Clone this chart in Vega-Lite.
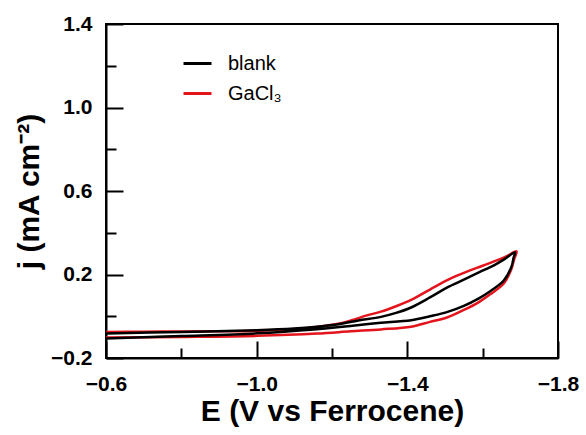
{
  "$schema": "https://vega.github.io/schema/vega-lite/v6.json",
  "width": 452,
  "height": 334,
  "autosize": {"type": "none"},
  "padding": {"left": 106, "top": 24, "right": 28, "bottom": 77},
  "background": "white",
  "config": {
    "view": {"stroke": "black", "strokeWidth": 2},
    "font": "Liberation Sans"
  },
  "data": {
    "values": [
      {"s": "GaCl₃", "i": 0, "E": -0.60, "j": -0.075},
      {"s": "GaCl₃", "i": 1, "E": -0.70, "j": -0.074},
      {"s": "GaCl₃", "i": 2, "E": -0.80, "j": -0.073},
      {"s": "GaCl₃", "i": 3, "E": -0.90, "j": -0.072},
      {"s": "GaCl₃", "i": 4, "E": -1.00, "j": -0.070},
      {"s": "GaCl₃", "i": 5, "E": -1.08, "j": -0.064},
      {"s": "GaCl₃", "i": 6, "E": -1.16, "j": -0.051},
      {"s": "GaCl₃", "i": 7, "E": -1.22, "j": -0.035},
      {"s": "GaCl₃", "i": 8, "E": -1.26, "j": -0.015},
      {"s": "GaCl₃", "i": 9, "E": -1.29, "j": 0.003},
      {"s": "GaCl₃", "i": 10, "E": -1.33, "j": 0.022},
      {"s": "GaCl₃", "i": 11, "E": -1.37, "j": 0.048},
      {"s": "GaCl₃", "i": 12, "E": -1.41, "j": 0.078},
      {"s": "GaCl₃", "i": 13, "E": -1.46, "j": 0.128},
      {"s": "GaCl₃", "i": 14, "E": -1.51, "j": 0.177},
      {"s": "GaCl₃", "i": 15, "E": -1.56, "j": 0.215},
      {"s": "GaCl₃", "i": 16, "E": -1.60, "j": 0.242},
      {"s": "GaCl₃", "i": 17, "E": -1.66, "j": 0.284},
      {"s": "GaCl₃", "i": 18, "E": -1.69, "j": 0.311},
      {"s": "GaCl₃", "i": 19, "E": -1.683, "j": 0.270},
      {"s": "GaCl₃", "i": 20, "E": -1.675, "j": 0.220},
      {"s": "GaCl₃", "i": 21, "E": -1.656, "j": 0.157},
      {"s": "GaCl₃", "i": 22, "E": -1.62, "j": 0.105},
      {"s": "GaCl₃", "i": 23, "E": -1.59, "j": 0.068},
      {"s": "GaCl₃", "i": 24, "E": -1.55, "j": 0.030},
      {"s": "GaCl₃", "i": 25, "E": -1.505, "j": -0.006},
      {"s": "GaCl₃", "i": 26, "E": -1.46, "j": -0.027},
      {"s": "GaCl₃", "i": 27, "E": -1.41, "j": -0.050},
      {"s": "GaCl₃", "i": 28, "E": -1.33, "j": -0.063},
      {"s": "GaCl₃", "i": 29, "E": -1.25, "j": -0.072},
      {"s": "GaCl₃", "i": 30, "E": -1.16, "j": -0.083},
      {"s": "GaCl₃", "i": 31, "E": -1.00, "j": -0.094},
      {"s": "GaCl₃", "i": 32, "E": -0.80, "j": -0.099},
      {"s": "GaCl₃", "i": 33, "E": -0.60, "j": -0.102},
      {"s": "blank", "i": 0, "E": -0.60, "j": -0.083},
      {"s": "blank", "i": 1, "E": -0.80, "j": -0.075},
      {"s": "blank", "i": 2, "E": -1.00, "j": -0.067},
      {"s": "blank", "i": 3, "E": -1.10, "j": -0.059},
      {"s": "blank", "i": 4, "E": -1.16, "j": -0.050},
      {"s": "blank", "i": 5, "E": -1.22, "j": -0.037},
      {"s": "blank", "i": 6, "E": -1.27, "j": -0.020},
      {"s": "blank", "i": 7, "E": -1.33, "j": -0.003},
      {"s": "blank", "i": 8, "E": -1.37, "j": 0.016},
      {"s": "blank", "i": 9, "E": -1.41, "j": 0.042},
      {"s": "blank", "i": 10, "E": -1.46, "j": 0.090},
      {"s": "blank", "i": 11, "E": -1.505, "j": 0.137},
      {"s": "blank", "i": 12, "E": -1.55, "j": 0.175},
      {"s": "blank", "i": 13, "E": -1.59, "j": 0.210},
      {"s": "blank", "i": 14, "E": -1.63, "j": 0.244},
      {"s": "blank", "i": 15, "E": -1.656, "j": 0.271},
      {"s": "blank", "i": 16, "E": -1.686, "j": 0.306},
      {"s": "blank", "i": 17, "E": -1.682, "j": 0.280},
      {"s": "blank", "i": 18, "E": -1.677, "j": 0.240},
      {"s": "blank", "i": 19, "E": -1.656, "j": 0.171},
      {"s": "blank", "i": 20, "E": -1.62, "j": 0.120},
      {"s": "blank", "i": 21, "E": -1.59, "j": 0.086},
      {"s": "blank", "i": 22, "E": -1.55, "j": 0.050},
      {"s": "blank", "i": 23, "E": -1.505, "j": 0.020},
      {"s": "blank", "i": 24, "E": -1.46, "j": 0.000},
      {"s": "blank", "i": 25, "E": -1.41, "j": -0.019},
      {"s": "blank", "i": 26, "E": -1.33, "j": -0.031},
      {"s": "blank", "i": 27, "E": -1.29, "j": -0.038},
      {"s": "blank", "i": 28, "E": -1.22, "j": -0.052},
      {"s": "blank", "i": 29, "E": -1.16, "j": -0.062},
      {"s": "blank", "i": 30, "E": -1.00, "j": -0.082},
      {"s": "blank", "i": 31, "E": -0.80, "j": -0.095},
      {"s": "blank", "i": 32, "E": -0.60, "j": -0.106}
    ]
  },
  "mark": {"type": "line", "strokeWidth": 2.5, "interpolate": "catmull-rom", "clip": true},
  "encoding": {
    "x": {
      "field": "E", "type": "quantitative",
      "scale": {"domain": [-1.8, -0.6], "reverse": true, "nice": false, "zero": false},
      "axis": {
        "values": [-0.6, -0.8, -1.0, -1.2, -1.4, -1.6, -1.8],
        "format": ".1f",
        "labelExpr": "abs(round(datum.value*10))%4==2 ? datum.label : ''",
        "tickSize": {"condition": {"test": "abs(round(datum.value*10))%4==2", "value": -17}, "value": -10},
        "tickWidth": 2, "tickColor": "black",
        "domainWidth": 2, "domainColor": "black",
        "grid": false,
        "labelFont": "Liberation Sans", "labelFontWeight": "bold", "labelFontSize": 21, "labelColor": "black",
        "labelPadding": 32, "labelFlush": false, "labelOverlap": false,
        "title": "E (V vs Ferrocene)",
        "titleFont": "Liberation Sans", "titleFontWeight": "bold", "titleFontSize": 30, "titleColor": "black",
        "titlePadding": -5
      }
    },
    "y": {
      "field": "j", "type": "quantitative",
      "scale": {"domain": [-0.2, 1.4], "nice": false, "zero": false},
      "axis": {
        "values": [-0.2, 0.0, 0.2, 0.4, 0.6, 0.8, 1.0, 1.2, 1.4],
        "format": ".1f",
        "labelExpr": "abs(round(datum.value*10))%4==2 ? datum.label : ''",
        "tickSize": {"condition": {"test": "abs(round(datum.value*10))%4==2", "value": -17}, "value": -10},
        "tickWidth": 2, "tickColor": "black",
        "domainWidth": 2, "domainColor": "black",
        "grid": false,
        "labelFont": "Liberation Sans", "labelFontWeight": "bold", "labelFontSize": 21, "labelColor": "black",
        "labelPadding": 31, "labelFlush": false, "labelOverlap": false,
        "title": "j (mA cm⁻²)",
        "titleFont": "Liberation Sans", "titleFontWeight": "bold", "titleFontSize": 30, "titleColor": "black",
        "titlePadding": 6
      }
    },
    "color": {
      "field": "s", "type": "nominal",
      "scale": {"domain": ["blank", "GaCl₃"], "range": ["black", "#e3141c"]},
      "legend": {
        "title": null,
        "orient": "none",
        "legendX": 76,
        "legendY": 24,
        "symbolType": "stroke",
        "symbolSize": 784,
        "symbolStrokeWidth": 3,
        "labelFont": "Liberation Sans",
        "labelFontSize": 20,
        "labelColor": "black",
        "labelOffset": 15,
        "rowPadding": 4
      }
    },
    "order": {"field": "i", "type": "quantitative"}
  }
}
